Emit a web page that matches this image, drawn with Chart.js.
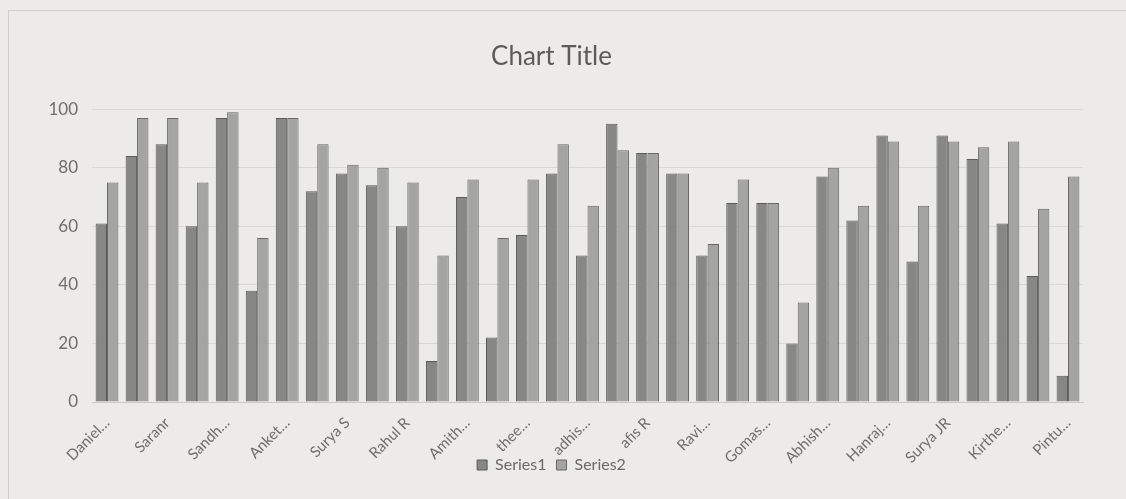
<!DOCTYPE html>
<html>
<head>
<meta charset="utf-8">
<title>Chart Title</title>
<script src="https://cdn.jsdelivr.net/npm/chart.js@4"></script>
<style>
    html, body { margin: 0; padding: 0; background: #ecebe9; }
    #wrap { position: relative; width: 1126px; height: 499px; }
    #frame {
        position: absolute; left: 8px; top: 10px; right: 0; bottom: 0;
        border-left: 1px solid #cfcecb; border-top: 1px solid #cfcecb;
        pointer-events: none;
    }
    canvas { position: absolute; left: 0; top: 0; }
</style>
</head>
<body>
<div id="wrap">
    <canvas id="scoreChart" width="1126" height="499"></canvas>
    <div id="frame"></div>
</div>
<script>
// Names as they show under the axis (Excel only prints every other one)
const categories = [
    'Daniel…', '', 'Saranr', '', 'Sandh…', '', 'Anket…', '', 'Surya S', '',
    'Rahul R', '', 'Amith…', '', 'thee…', '', 'adhis…', '', 'afis R', '',
    'Ravi…', '', 'Gomas…', '', 'Abhish…', '', 'Hanraj…', '', 'Surya JR', '',
    'Kirthe…', '', 'Pintu…'
];

const series1 = [61, 84, 88, 60, 97, 38, 97, 72, 78, 74, 60, 14, 70, 22, 57, 78, 50,
                 95, 85, 78, 50, 68, 68, 20, 77, 62, 91, 48, 91, 83, 61, 43, 9];
const series2 = [75, 97, 97, 75, 99, 56, 97, 88, 81, 80, 75, 50, 76, 56, 76, 88, 67,
                 86, 85, 78, 54, 76, 68, 34, 80, 67, 89, 67, 89, 87, 89, 66, 77];

const seriesNames = ['Series1', 'Series2'];
const yTicks = [0, 20, 40, 60, 80, 100];

const FONT = 'Lato, "Open Sans", sans-serif';

// x labels are squeezed to let the legend sit on top of them,
// so stretch the axis box back down before drawing (otherwise they get clipped)
const unclipLabels = {
    id: 'unclipLabels',
    afterLayout(chart) {
        chart.scales.x.bottom = chart.height;
    }
};

document.addEventListener('DOMContentLoaded', function() {
    const ctx = document.getElementById('scoreChart').getContext('2d');
    new Chart(ctx, {
        type: 'bar',
        data: {
            labels: categories,
            datasets: [
                {
                    label: seriesNames[0],
                    data: series1,
                    backgroundColor: '#878786',
                    borderColor: '#5a5a59',
                    borderWidth: 1
                },
                {
                    label: seriesNames[1],
                    data: series2,
                    backgroundColor: '#a4a4a3',
                    borderColor: '#686867',
                    borderWidth: 1
                }
            ]
        },
        options: {
            responsive: false,
            animation: false,
            layout: { padding: { left: 20, right: 43, top: 0, bottom: 16 } },
            datasets: {
                bar: { categoryPercentage: 0.76, barPercentage: 1 }
            },
            plugins: {
                title: {
                    display: true,
                    text: 'Chart Title',
                    color: '#5b5b5a',
                    font: { family: FONT, size: 26, weight: 'normal' },
                    padding: { top: 41, bottom: 37 }
                },
                legend: {
                    position: 'bottom',
                    labels: {
                        color: '#6a6a69',
                        font: { family: FONT, size: 16 },
                        boxWidth: 10,
                        boxHeight: 10,
                        padding: 10
                    }
                },
                tooltip: { enabled: false }
            },
            scales: {
                x: {
                    grid: { display: false },
                    border: { color: '#c9c9c7' },
                    ticks: {
                        autoSkip: false,
                        minRotation: 45,
                        maxRotation: 45,
                        color: '#6e6e6d',
                        font: { family: FONT, size: 15 },
                        padding: 4
                    },
                    afterFit: function(scale) { scale.height = 45; }
                },
                y: {
                    min: yTicks[0],
                    max: yTicks[yTicks.length - 1],
                    grid: { color: '#d8d8d6', drawTicks: false },
                    border: { display: false },
                    ticks: {
                        stepSize: yTicks[1] - yTicks[0],
                        color: '#6e6e6d',
                        font: { family: FONT, size: 17 },
                        padding: 14
                    },
                    afterFit: function(scale) { scale.width = 72; }
                }
            }
        },
        plugins: [unclipLabels]
    });
});
</script>
</body>
</html>
